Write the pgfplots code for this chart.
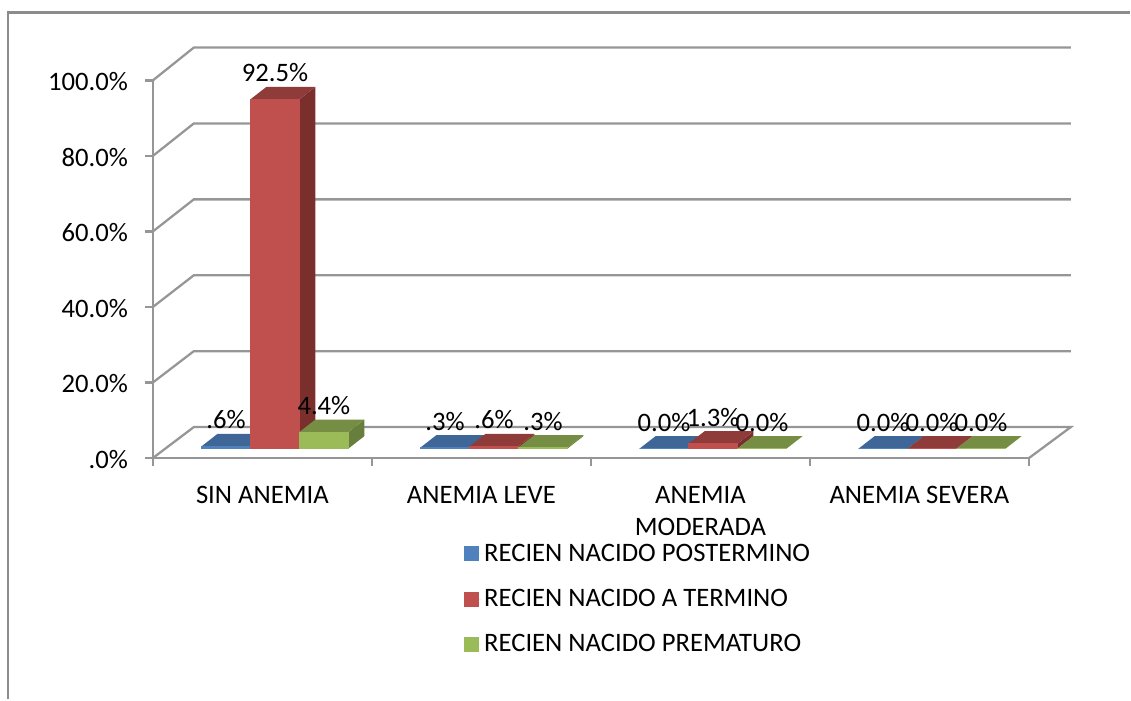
\documentclass[border=0pt]{standalone}
\usepackage{pgfplots}
\pgfplotsset{compat=1.18}
\usepackage{fontspec}
\setmainfont{Carlito}

\definecolor{wall}{HTML}{969696}
\definecolor{frameline}{HTML}{8C8C8C}
\definecolor{bluefront}{HTML}{4F81BD}
\definecolor{bluetop}{HTML}{3E6696}
\definecolor{blueside}{HTML}{375A85}
\definecolor{redfront}{HTML}{C0504D}
\definecolor{redtop}{HTML}{8E3B39}
\definecolor{redside}{HTML}{7B2F2D}
\definecolor{greenfront}{HTML}{9BBB59}
\definecolor{greentop}{HTML}{758E44}
\definecolor{greenside}{HTML}{687E3C}

% geometry of the oblique bars, in data units
\def\barwidth{0.2235}
\def\bargap{0.2222}
\def\baselift{2.5}
\def\depthx{0.073}
\def\depthy{3.3}

% #1 category, #2 series position, #3 value, #4 colour stem, #5 label
\newcommand{\obliquebar}[5]{%
  \pgfmathsetmacro{\xa}{#1+\bargap+#2*\barwidth}%
  \pgfmathsetmacro{\xb}{\xa+\barwidth}%
  \pgfmathsetmacro{\xc}{\xa+\depthx}%
  \pgfmathsetmacro{\xd}{\xb+\depthx}%
  \pgfmathsetmacro{\xm}{\xa+0.5*\barwidth}%
  \pgfmathsetmacro{\ya}{\baselift}%
  \pgfmathsetmacro{\yb}{\baselift+#3}%
  \pgfmathsetmacro{\yc}{\yb+\depthy}%
  \pgfmathsetmacro{\yd}{\ya+\depthy}%
  \pgfmathsetmacro{\yl}{\yb+7}%
  \addplot[forget plot, fill=#4side, draw=none] coordinates {(\xb,\ya) (\xd,\yd) (\xd,\yc) (\xb,\yb)} -- cycle;
  \addplot[forget plot, fill=#4top, draw=none] coordinates {(\xa,\yb) (\xb,\yb) (\xd,\yc) (\xc,\yc)} -- cycle;
  \addplot[forget plot, fill=#4front, draw=#4front, line width=0.5pt] coordinates {(\xa,\ya) (\xb,\ya) (\xb,\yb) (\xa,\yb)} -- cycle;
  \addplot[forget plot, draw=none, mark=none, point meta=explicit symbolic,
    nodes near coords={#5}, nodes near coords style={anchor=center, inner sep=0pt, text=black}]
    coordinates {(\xm,\yl) [x]};
}

\begin{document}
\begin{tikzpicture}
\begin{axis}[
  scale only axis,
  width=657.75pt, height=283.5pt,
  xmin=0, xmax=4, ymin=0, ymax=100,
  clip=false,
  axis lines=left,
  axis line style={wall, line width=1.7pt, -},
  tick style={wall, line width=1.7pt},
  major tick length=6pt,
  tick align=outside,
  font=\fontsize{20}{24}\selectfont,
  ytick={0,20,40,60,80,100},
  yticklabels={.0\%,20.0\%,40.0\%,60.0\%,80.0\%,100.0\%},
  y tick label style={inner sep=0pt, xshift=-12.5pt, yshift=-1pt, anchor=east},
  xtick={0,1,2,3,4},
  xticklabels={},
  extra x ticks={0.5,1.5,2.5,3.5},
  extra x tick labels={SIN ANEMIA,ANEMIA LEVE,ANEMIA\\MODERADA,ANEMIA SEVERA},
  extra x tick style={major tick length=0pt,
    tick label style={align=center, anchor=north, inner sep=0pt, yshift=-21pt}},
  legend style={draw=none, fill=none, at={(0.3546,-0.221)}, anchor=north west,
    inner sep=0pt, outer sep=0pt, row sep=15.5pt,
    font=\fontsize{20}{24}\selectfont},
  legend cell align=left,
  legend image code/.code={\fill[#1, draw=none] (0pt,-5.6pt) rectangle (11.25pt,5.6pt); \path[draw=none] (0pt,0pt) -- (13.5pt,0pt);},
]
  % walls and floor
  \addplot[forget plot, wall, line width=1.7pt] coordinates {(0,0) (0.187,8.2) (4.191,8.2) (4,0)};
  \addplot[forget plot, wall, line width=1.7pt] coordinates {(0,20) (0.187,28.3) (4.191,28.3)};
  \addplot[forget plot, wall, line width=1.7pt] coordinates {(0,40) (0.187,48.4) (4.191,48.4)};
  \addplot[forget plot, wall, line width=1.7pt] coordinates {(0,60) (0.187,68.5) (4.191,68.5)};
  \addplot[forget plot, wall, line width=1.7pt] coordinates {(0,80) (0.187,88.6) (4.191,88.6)};
  \addplot[forget plot, wall, line width=1.7pt] coordinates {(0,100) (0.187,108.7) (4.191,108.7)};

  % bars, drawn left to right
  \obliquebar{0}{0}{0.6}{blue}{.6\%}
  \obliquebar{0}{1}{92.5}{red}{92.5\%}
  \obliquebar{0}{2}{4.4}{green}{4.4\%}
  \obliquebar{1}{0}{0.3}{blue}{.3\%}
  \obliquebar{1}{1}{0.6}{red}{.6\%}
  \obliquebar{1}{2}{0.3}{green}{.3\%}
  \obliquebar{2}{0}{0}{blue}{0.0\%}
  \obliquebar{2}{1}{1.3}{red}{1.3\%}
  \obliquebar{2}{2}{0}{green}{0.0\%}
  \obliquebar{3}{0}{0}{blue}{0.0\%}
  \obliquebar{3}{1}{0}{red}{0.0\%}
  \obliquebar{3}{2}{0}{green}{0.0\%}

  \addlegendimage{fill=bluefront}
  \addlegendentry{RECIEN NACIDO POSTERMINO}
  \addlegendimage{fill=redfront}
  \addlegendentry{RECIEN NACIDO A TERMINO}
  \addlegendimage{fill=greenfront}
  \addlegendentry{RECIEN NACIDO PREMATURO}
\end{axis}
% page extent and the partial outer frame
\path (-114.75pt,-181.125pt) rectangle (733.5pt,343.875pt);
\draw[frameline, line width=1.7pt] (-109pt,-181.125pt) -- (-109pt,334.5pt) -- (733.5pt,334.5pt);
\end{tikzpicture}
\end{document}
